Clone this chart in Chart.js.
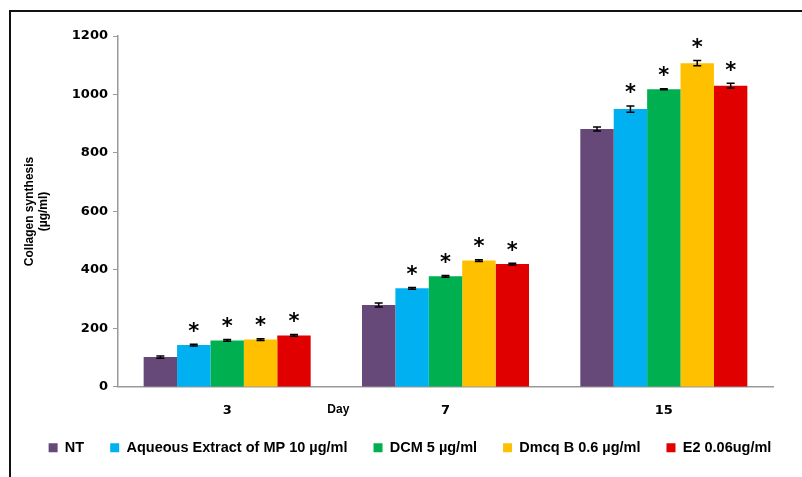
<!DOCTYPE html>
<html>
<head>
<meta charset="utf-8">
<script src="https://cdn.jsdelivr.net/npm/chart.js@4.4.1/dist/chart.umd.min.js"></script>
<style>
  html, body { margin: 0; padding: 0; background: #fff; }
  #wrap { position: relative; width: 802px; height: 477px; }
  #frame { position: absolute; left: 9px; top: 10px; right: 0; bottom: 0;
           border-left: 2px solid #111; border-top: 2px solid #111; }
  canvas { position: absolute; left: 0; top: 0; }
</style>
</head>
<body>
<div id="wrap">
  <div id="frame"></div>
  <canvas id="chart" width="802" height="477"></canvas>
</div>
<script>
// days on the x axis
const days = ['3', '7', '15'];

// collagen synthesis (µg/ml)
const ntValues      = [102, 280, 882];
const aqueousValues = [143, 337, 950];
const dcmValues     = [159, 378, 1018];
const dmcqValues    = [162, 432, 1107];
const e2Values      = [176, 420, 1030];

// error bar half-heights
const ntErr      = [4, 7, 7];
const aqueousErr = [3, 3, 11];
const dcmErr     = [3, 3, 2];
const dmcqErr    = [3, 3, 9];
const e2Err      = [3, 3, 8];

const seriesNames = ['NT', 'Aqueous Extract of MP 10 \u00b5g/ml', 'DCM 5 \u00b5g/ml', 'Dmcq B 0.6 \u00b5g/ml', 'E2 0.06ug/ml'];
const significant = [false, true, true, true, true];

const yTicks = [0, 200, 400, 600, 800, 1000, 1200];

const colors = ['#664879', '#00B0F0', '#00B050', '#FFC000', '#E00000'];
const allValues = [ntValues, aqueousValues, dcmValues, dmcqValues, e2Values];
const allErr = [ntErr, aqueousErr, dcmErr, dmcqErr, e2Err];

const errorBars = {
  id: 'errorBars',
  afterInit(chart) {
    // legend keeps its wide item spacing but sits a little closer to the axis
    const legend = chart.legend;
    const draw = legend.draw.bind(legend);
    legend.draw = function (area) {
      chart.ctx.save();
      chart.ctx.translate(0, -14);
      draw(area);
      chart.ctx.restore();
    };
  },
  afterDatasetsDraw(chart) {
    const ctx = chart.ctx;
    const y = chart.scales.y;
    ctx.save();
    chart.data.datasets.forEach((ds, i) => {
      const meta = chart.getDatasetMeta(i);
      meta.data.forEach((bar, j) => {
        const v = ds.data[j], e = allErr[i][j];
        const top = y.getPixelForValue(v + e);
        const bot = y.getPixelForValue(v - e);
        ctx.strokeStyle = '#000';
        ctx.lineWidth = 1.5;
        ctx.beginPath();
        ctx.moveTo(bar.x, top); ctx.lineTo(bar.x, bot);
        ctx.moveTo(bar.x - 4, top); ctx.lineTo(bar.x + 4, top);
        ctx.moveTo(bar.x - 4, bot); ctx.lineTo(bar.x + 4, bot);
        ctx.stroke();
        if (significant[i]) {
          ctx.fillStyle = '#000';
          ctx.font = 'bold 21px "DejaVu Sans"';
          ctx.textAlign = 'center';
          ctx.textBaseline = 'middle';
          ctx.fillText('*', bar.x, top - 12);
        }
      });
    });
    // "Day" label sits at the boundary between the first two categories
    const x = chart.scales.x;
    const dx = (x.getPixelForValue(0) + x.getPixelForValue(1)) / 2;
    ctx.fillStyle = '#000';
    ctx.font = 'bold 12px "Liberation Sans"';
    ctx.textAlign = 'center';
    ctx.textBaseline = 'middle';
    ctx.fillText('Day', dx + 2, x.top + 23);
    ctx.restore();
  }
};

new Chart(document.getElementById('chart'), {
  type: 'bar',
  data: {
    labels: days,
    datasets: allValues.map((vals, i) => ({
      label: seriesNames[i],
      data: vals,
      backgroundColor: colors[i],
      borderWidth: 0,
      categoryPercentage: 0.765,
      barPercentage: 1.0
    }))
  },
  options: {
    responsive: false,
    animation: false,
    layout: { padding: { left: 18, right: 0, top: 36, bottom: -2 } },
    plugins: {
      tooltip: { enabled: false },
      legend: {
        position: 'bottom',
        labels: {
          boxWidth: 9, boxHeight: 9, padding: 26,
          color: '#000',
          font: { family: '"Liberation Sans"', weight: 'bold', size: 14.5 }
        }
      }
    },
    scales: {
      x: {
        grid: { display: false, drawOnChartArea: false, drawTicks: true, offset: true, tickLength: 6, color: '#999' },
        border: { color: '#999', width: 1.5 },
        ticks: { color: '#000', padding: 10, font: { family: '"DejaVu Sans"', weight: 'bold', size: 13 } }
      },
      y: {
        min: 0, max: 1200,
        afterBuildTicks: s => { s.ticks = yTicks.map(v => ({ value: v })); },
        afterFit: s => { s.width = 100; },
        grid: { drawOnChartArea: false, drawTicks: true, tickLength: 5, color: '#999' },
        border: { color: '#999', width: 1.5 },
        ticks: {
          color: '#000', padding: 5,
          font: { family: '"DejaVu Sans"', weight: 'bold', size: 13 },
          callback: v => String(v)
        },
        title: {
          display: true,
          text: ['Collagen synthesis', '(\u00b5g/ml)'],
          color: '#000',
          font: { family: '"Liberation Sans"', weight: 'bold', size: 12 },
          padding: { top: 4, bottom: 4 }
        }
      },
      // empty right-hand gutter so the legend can centre over the full width
      gutter: {
        position: 'right',
        afterFit: s => { s.width = 29; },
        grid: { display: false },
        border: { display: false },
        ticks: { display: false }
      }
    }
  },
  plugins: [errorBars]
});
</script>
</body>
</html>
